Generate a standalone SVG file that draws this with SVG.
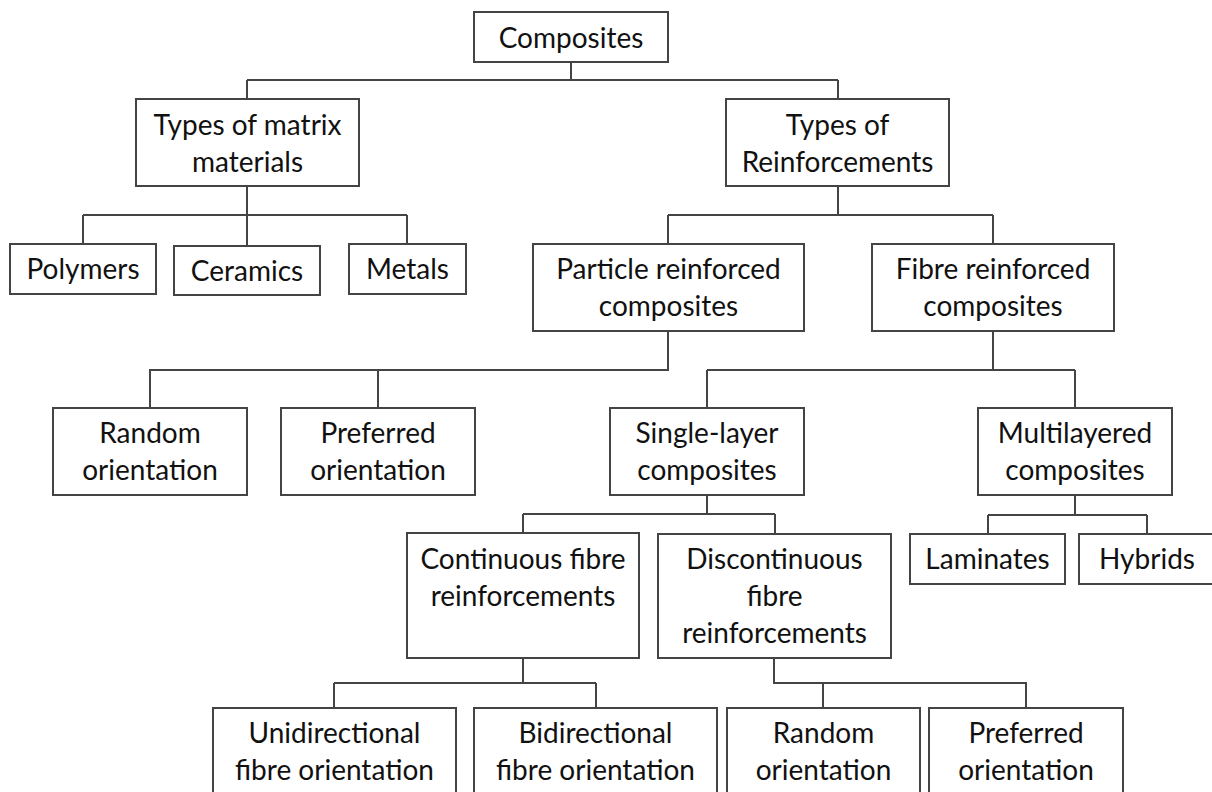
<svg xmlns="http://www.w3.org/2000/svg" width="1212" height="792" viewBox="0 0 1212 792">
<style>
rect{fill:#fff;stroke:#444;stroke-width:2}
text{font-family:Lato,"Open Sans",sans-serif;font-size:28px;fill:#111;text-anchor:middle}
.c path{fill:none;stroke:#444;stroke-width:2}
</style>
<rect x="0" y="0" width="1212" height="792" style="stroke:none"/>
<g class="c" id="connectors">
<path d="M571 62V80M247 80H838M247 80V99M838 80V99"/>
<path d="M247 186V246M83 215H407M83 215V244M407 215V244"/>
<path d="M838 186V215M668 215H993M668 215V244M993 215V244"/>
<path d="M668 331V370H150V408M378 370V408"/>
<path d="M993 331V370M707 370H1075M707 370V408M1075 370V408"/>
<path d="M1075 495V515M988 515H1147M988 515V534M1147 515V534"/>
<path d="M707 495V514M523 514H775M523 514V533M775 514V534"/>
<path d="M523 658V683M334 683H596M334 683V708M596 683V708"/>
<path d="M774 658V683H1026V708M823 683V708"/>
</g>
<g id="n-composites"><rect x="474" y="12" width="194" height="50"/><text x="571" y="48">Composites</text></g>
<g id="n-matrix"><rect x="136" y="99" width="223" height="87"/><text x="247.5" y="135">Types of matrix</text><text x="247.5" y="172">materials</text></g>
<g id="n-reinf"><rect x="726" y="99" width="223" height="87"/><text x="837.5" y="135">Types of</text><text x="837.5" y="172">Reinforcements</text></g>
<g id="n-polymers"><rect x="10" y="244" width="146" height="50"/><text x="83" y="279">Polymers</text></g>
<g id="n-ceramics"><rect x="174" y="246" width="146" height="49"/><text x="247" y="281">Ceramics</text></g>
<g id="n-metals"><rect x="349" y="244" width="117" height="50"/><text x="407.5" y="279">Metals</text></g>
<g id="n-particle"><rect x="533" y="244" width="271" height="87"/><text x="668.5" y="279">Particle reinforced</text><text x="668.5" y="316">composites</text></g>
<g id="n-fibre"><rect x="872" y="244" width="242" height="87"/><text x="993" y="279">Fibre reinforced</text><text x="993" y="316">composites</text></g>
<g id="n-random1"><rect x="53" y="408" width="194" height="87"/><text x="150" y="443">Random</text><text x="150" y="480">orientation</text></g>
<g id="n-preferred1"><rect x="281" y="408" width="194" height="87"/><text x="378" y="443">Preferred</text><text x="378" y="480">orientation</text></g>
<g id="n-single"><rect x="610" y="408" width="194" height="87"/><text x="707" y="443">Single-layer</text><text x="707" y="480">composites</text></g>
<g id="n-multi"><rect x="978" y="408" width="194" height="87"/><text x="1075" y="443">Multilayered</text><text x="1075" y="480">composites</text></g>
<g id="n-laminates"><rect x="910" y="534" width="155" height="50"/><text x="987.5" y="569">Laminates</text></g>
<g id="n-hybrids"><rect x="1079" y="534" width="136" height="50"/><text x="1147" y="569">Hybrids</text></g>
<g id="n-continuous"><rect x="407" y="533" width="232" height="125"/><text x="523" y="569">Continuous fibre</text><text x="523" y="606">reinforcements</text></g>
<g id="n-discontinuous"><rect x="658" y="534" width="233" height="124"/><text x="774.5" y="569">Discontinuous</text><text x="774.5" y="606">fibre</text><text x="774.5" y="643">reinforcements</text></g>
<g id="n-uni"><rect x="213" y="708" width="243" height="100"/><text x="334.5" y="743">Unidirectional</text><text x="334.5" y="780">fibre orientation</text></g>
<g id="n-bi"><rect x="474" y="708" width="243" height="100"/><text x="595.5" y="743">Bidirectional</text><text x="595.5" y="780">fibre orientation</text></g>
<g id="n-random2"><rect x="727" y="708" width="193" height="100"/><text x="823.5" y="743">Random</text><text x="823.5" y="780">orientation</text></g>
<g id="n-preferred2"><rect x="929" y="708" width="194" height="100"/><text x="1026" y="743">Preferred</text><text x="1026" y="780">orientation</text></g>
</svg>
